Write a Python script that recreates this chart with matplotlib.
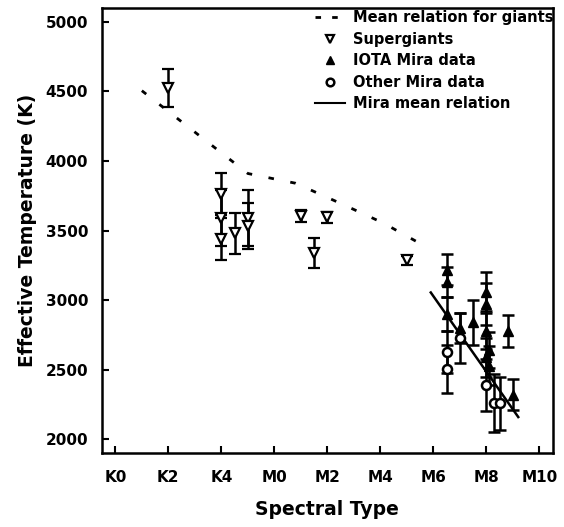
import numpy as np
import matplotlib
matplotlib.use("Agg")
import matplotlib.pyplot as plt
from matplotlib.lines import Line2D

# spectral type scale: K0=0, K2=2, K4=4, M0=6, M2=8 ... M10=16
tick_pos = [0, 2, 4, 6, 8, 10, 12, 14, 16]
tick_labels = ["K0", "K2", "K4", "M0", "M2", "M4", "M6", "M8", "M10"]

# mean relation for giants
giant_sp = [1.0, 5.0, 6.8, 8.5, 10.1, 11.8]
giant_teff = [4505, 3910, 3840, 3695, 3555, 3375]

# supergiants
sg_sp = [2.0, 4.0, 4.0, 4.0, 4.5, 5.0, 5.0, 7.0, 7.5, 8.0, 11.0]
sg_teff = [4525, 3765, 3590, 3440, 3480, 3590, 3535, 3605, 3340, 3595, 3285]
sg_err = [135, 150, 200, 150, 147, 200, 165, 40, 110, 40, 35]

# IOTA Mira data
iota_sp = [12.5, 12.5, 12.5, 13.0, 13.5, 14.0, 14.0, 14.0, 14.1, 14.0, 14.1, 14.8, 15.0]
iota_teff = [3220, 3130, 2900, 2800, 2840, 3060, 2970, 2780, 2640, 2590, 2530, 2780, 2320]
iota_err = [110, 110, 120, 110, 160, 140, 150, 130, 130, 140, 140, 115, 110]

# other Mira data
oth_sp = [12.5, 12.5, 13.0, 14.0, 14.3, 14.5]
oth_teff = [2625, 2505, 2725, 2390, 2260, 2260]
oth_err = [150, 170, 180, 190, 210, 190]

# Mira mean relation
mira_sp = [11.9, 15.2]
mira_teff = [3055, 2160]

plt.rcParams['font.family'] = ['DejaVu Sans']
plt.rcParams['font.weight'] = 'bold'

fig = plt.figure(figsize=(5.64, 5.27), dpi=100)
ax = fig.add_axes([0.181, 0.140, 0.799, 0.845])

ax.plot(giant_sp, giant_teff, color='black', lw=2, linestyle=(0, (2, 6)))
ax.plot(mira_sp, mira_teff, color='black', lw=1.8)

ekw = dict(color='black', ecolor='black', elinewidth=1.8, capsize=4, capthick=1.8,
           linestyle='none', markersize=6.5)
ax.errorbar(sg_sp, sg_teff, yerr=sg_err, marker='v', markerfacecolor='white',
            markeredgewidth=1.6, **ekw)
ax.errorbar(iota_sp, iota_teff, yerr=iota_err, marker='^', markerfacecolor='black', **ekw)
ax.errorbar(oth_sp, oth_teff, yerr=oth_err, marker='o', markerfacecolor='white',
            markeredgewidth=1.8, **ekw)

ax.set_xlim(-0.5, 16.5)
ax.set_ylim(1900, 5100)
ax.set_xticks(tick_pos)
ax.set_xticklabels(tick_labels)
ax.set_yticks([2000, 2500, 3000, 3500, 4000, 4500, 5000])
ax.tick_params(direction='in', length=5, width=1.5, labelsize=11)
ax.tick_params(axis='x', pad=12)
ax.tick_params(axis='y', pad=10)
for s in ax.spines.values():
    s.set_linewidth(1.8)

ax.set_xlabel("Spectral Type", fontsize=13.5, fontweight='bold', labelpad=11)
ax.set_ylabel("Effective Temperature (K)", fontsize=13.5, fontweight='bold', labelpad=6)

handles = [
    Line2D([], [], color='black', lw=2, linestyle=(0, (2, 4))),
    Line2D([], [], color='black', marker='v', markerfacecolor='white', markeredgewidth=1.6,
           linestyle='none', markersize=6),
    Line2D([], [], color='black', marker='^', linestyle='none', markersize=6),
    Line2D([], [], color='black', marker='o', markerfacecolor='white', markeredgewidth=1.8,
           linestyle='none', markersize=5.5),
    Line2D([], [], color='black', lw=1.5),
]
labels = ["Mean relation for giants", "Supergiants", "IOTA Mira data",
          "Other Mira data", "Mira mean relation"]
ax.legend(handles, labels, loc='upper right', bbox_to_anchor=(1.025, 1.018), frameon=False,
          prop={'size': 10.5, 'weight': 'bold'}, handlelength=2.0, handletextpad=0.6,
          labelspacing=0.45, borderpad=0.2)

fig.savefig("out.png", dpi=100)
